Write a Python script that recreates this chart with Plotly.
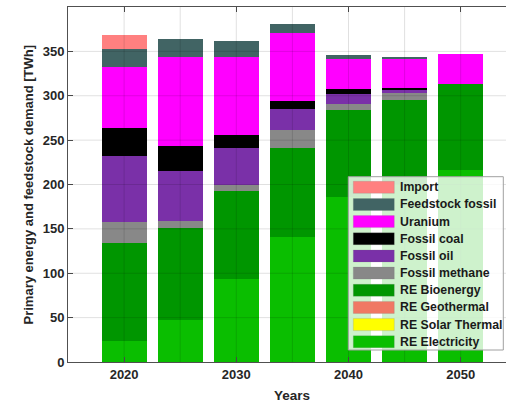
import plotly.graph_objects as go

years = [2020, 2025, 2030, 2035, 2040, 2045, 2050]

# stacked segments (TWh), bottom to top
re_electricity = [23.3, 47.7, 93.2, 140.6, 186.1, 201.0, 216.1]
re_solar_thermal = [0, 0, 0, 0, 0, 0, 0]
re_geothermal = [0, 0, 0, 0, 0, 0, 0]
re_bioenergy = [110.4, 103.8, 99.7, 100.8, 97.4, 94.5, 96.7]
fossil_methane = [23.7, 7.1, 6.3, 19.5, 7.1, 7.2, 0]
fossil_oil = [74.2, 56.4, 42.2, 23.7, 10.9, 3.3, 0]
fossil_coal = [31.6, 27.9, 13.9, 9.4, 5.7, 2.6, 0]
uranium = [69.1, 100.7, 88.7, 76.7, 34.6, 33.9, 34.6]
feedstock_fossil = [20.3, 20.8, 17.7, 10.6, 3.7, 1.5, 0]
import_ = [15.8, 0, 0, 0, 0, 0, 0]

series_names = ["RE Electricity", "RE Solar Thermal", "RE Geothermal", "RE Bioenergy",
                "Fossil methane", "Fossil oil", "Fossil coal", "Uranium",
                "Feedstock fossil", "Import"]
series_values = [re_electricity, re_solar_thermal, re_geothermal, re_bioenergy,
                 fossil_methane, fossil_oil, fossil_coal, uranium,
                 feedstock_fossil, import_]
series_colors = ["#0ABE00", "#FFFF00", "#F07864", "#009600",
                 "#888888", "#7A30A8", "#000000", "#FF00FF",
                 "#416464", "#FF8080"]

y_ticks = [0, 50, 100, 150, 200, 250, 300, 350]
x_ticks = [2020, 2030, 2040, 2050]

W, H = 506, 404
L, R, T, B = 68, 0, 7, 42
PW, PH = W - L - R, H - T - B

def px(xp):
    return (xp - L) / PW

def py(yp):
    return (H - B - yp) / PH

fig = go.Figure()
for name, vals, col in zip(series_names, series_values, series_colors):
    fig.add_trace(go.Bar(x=years, y=vals, name=name, width=4,
                         marker=dict(color=col, line=dict(width=0)),
                         showlegend=False))

shapes = []
# gridlines drawn above bars (MATLAB style)
for gx in range(2020, 2055, 5):
    shapes.append(dict(type="line", xref="x", yref="paper", x0=gx, x1=gx, y0=0, y1=1,
                       line=dict(color="rgba(0,0,0,0.12)", width=1), layer="above"))
for gy in y_ticks[1:]:
    shapes.append(dict(type="line", xref="paper", yref="y", x0=0, x1=1, y0=gy, y1=gy,
                       line=dict(color="rgba(0,0,0,0.12)", width=1), layer="above"))

# custom legend
shapes.append(dict(type="rect", xref="paper", yref="paper",
                   x0=px(348.3), x1=px(503.3), y0=py(350), y1=py(176.7),
                   fillcolor="rgba(255,255,255,0.8)", line=dict(color="#a0a0a0", width=1),
                   layer="above"))
annotations = []
leg_names = list(reversed(series_names))
leg_colors = list(reversed(series_colors))
for i, (nm, col) in enumerate(zip(leg_names, leg_colors)):
    cy = 187.3 + i * 17.16
    shapes.append(dict(type="rect", xref="paper", yref="paper",
                       x0=px(353.3), x1=px(394.3), y0=py(cy + 6), y1=py(cy - 6),
                       fillcolor=col, line=dict(color="rgba(120,120,120,0.4)", width=0.5),
                       layer="above"))
    annotations.append(dict(text=nm, xref="paper", yref="paper", x=px(397.5), y=py(cy),
                            xanchor="left", yanchor="middle", showarrow=False,
                            font=dict(family="Liberation Sans, Arial", size=12.3,
                                      color="#1a1a1a", weight="bold")))

annotations.append(dict(text="Years", xref="x", yref="paper", x=2035, y=py(395),
                        xanchor="center", yanchor="middle", showarrow=False,
                        font=dict(family="Liberation Sans, Arial", size=13.5,
                                  color="#262626", weight="bold")))
annotations.append(dict(text="Primary energy and feedstock demand [TWh]", xref="paper",
                        yref="paper", x=px(28), y=py(184.5), textangle=-90,
                        xanchor="center", yanchor="middle", showarrow=False,
                        font=dict(family="Liberation Sans, Arial", size=13,
                                  color="#262626", weight="bold")))

fig.update_layout(
    width=W, height=H, barmode="stack", bargap=0,
    margin=dict(l=L, r=R, t=T, b=B, pad=0),
    plot_bgcolor="white", paper_bgcolor="white",
    shapes=shapes, annotations=annotations,
    font=dict(family="Liberation Sans, Arial", size=13, color="#262626"),
)
fig.update_xaxes(range=[2015, 2015 + PW / 11.22], tickvals=x_ticks,
                 ticktext=[str(v) for v in x_ticks], showgrid=False, zeroline=False,
                 showline=True, linecolor="#505050", linewidth=1, mirror="ticks",
                 ticks="inside", ticklen=5, tickcolor="#505050",
                 tickfont=dict(size=13, weight="bold", color="#262626"))
fig.update_yaxes(range=[0, 400], tickvals=y_ticks, showgrid=False, zeroline=False,
                 showline=True, linecolor="#505050", linewidth=1,
                 ticks="inside", ticklen=5, tickcolor="#505050",
                 tickfont=dict(size=13, weight="bold", color="#262626"))

fig.write_html("out.html")
